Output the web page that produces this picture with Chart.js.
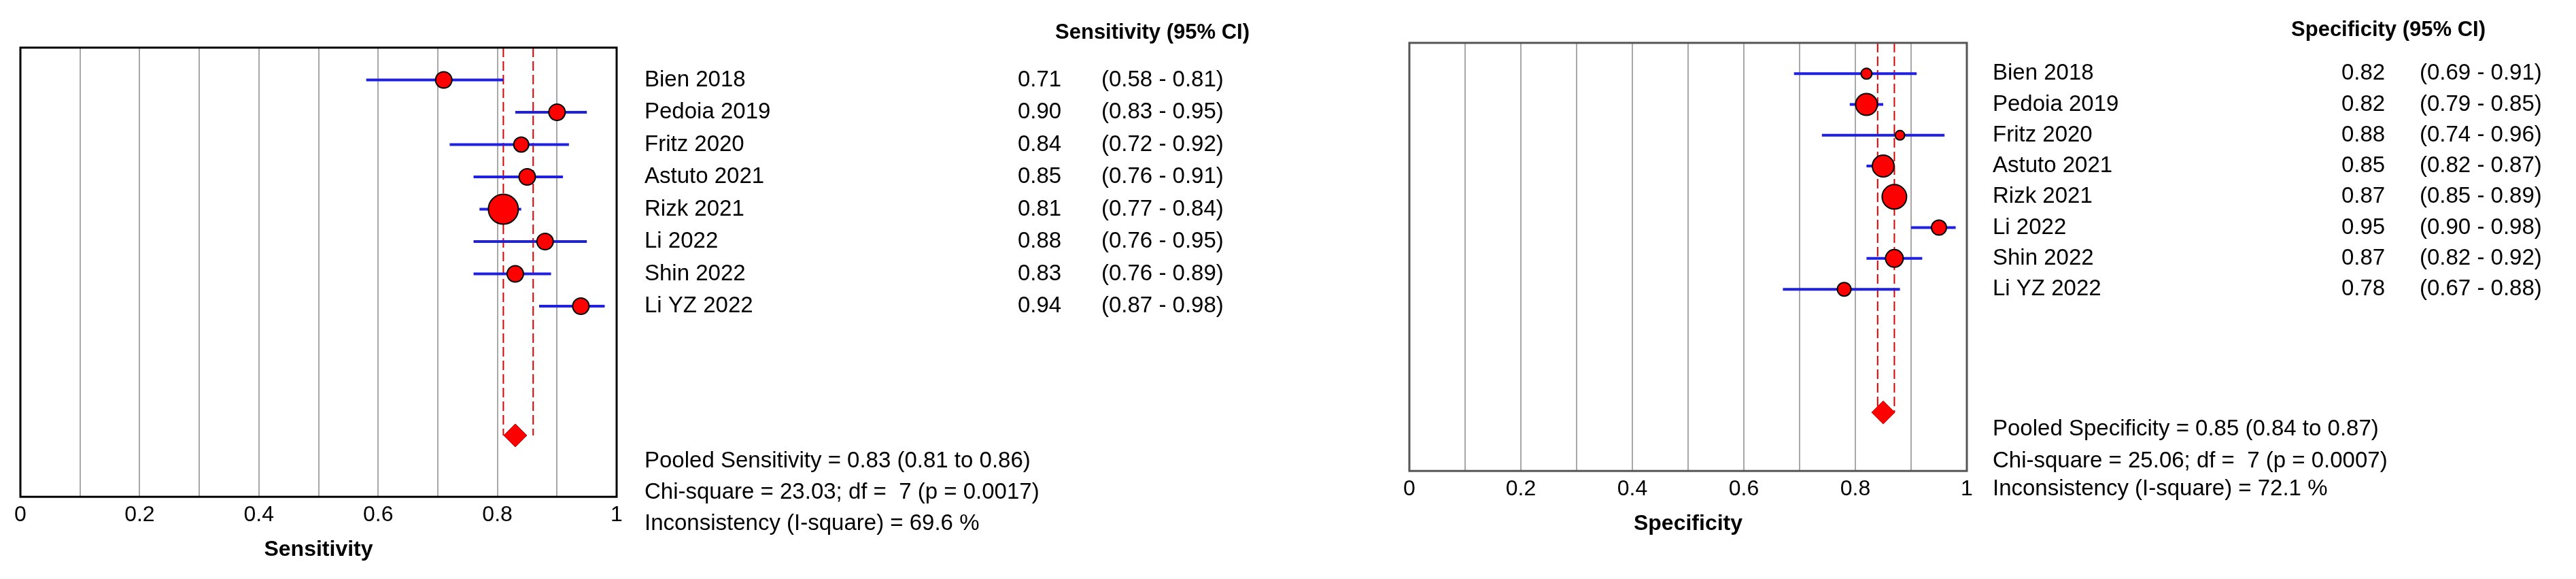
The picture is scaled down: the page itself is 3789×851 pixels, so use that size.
<!DOCTYPE html>
<html><head><meta charset="utf-8">
<script src="https://cdn.jsdelivr.net/npm/chart.js@4"></script>
<style>
body{margin:0;background:#fff;width:3789px;height:851px;overflow:hidden;position:relative}
.box{position:absolute;top:0;height:851px}
</style></head><body>
<div class="box" style="left:0;width:1894px"><canvas id="sens"></canvas></div>
<div class="box" style="left:1894px;width:1895px"><canvas id="spec"></canvas></div>
<script>
// data
const studies = ['Bien 2018','Pedoia 2019','Fritz 2020','Astuto 2021','Rizk 2021','Li 2022','Shin 2022','Li YZ 2022'];
const sensVal = [0.71,0.90,0.84,0.85,0.81,0.88,0.83,0.94];
const sensLo  = [0.58,0.83,0.72,0.76,0.77,0.76,0.76,0.87];
const sensHi  = [0.81,0.95,0.92,0.91,0.84,0.95,0.89,0.98];
const sensW   = [12,12,11,12,22,12,12,12];
const specVal = [0.82,0.82,0.88,0.85,0.87,0.95,0.87,0.78];
const specLo  = [0.69,0.79,0.74,0.82,0.85,0.90,0.82,0.67];
const specHi  = [0.91,0.85,0.96,0.87,0.89,0.98,0.92,0.88];
const specW   = [8,16,7,16,18,11,13,10];
const sensPooled = [0.83,0.81,0.86];
const specPooled = [0.85,0.84,0.87];
const sensStats = ['Pooled Sensitivity = 0.83 (0.81 to 0.86)','Chi-square = 23.03; df =  7 (p = 0.0017)','Inconsistency (I-square) = 69.6 %'];
const specStats = ['Pooled Specificity = 0.85 (0.84 to 0.87)','Chi-square = 25.06; df =  7 (p = 0.0007)','Inconsistency (I-square) = 72.1 %'];

Chart.defaults.font.family = '"Liberation Sans", Arial, sans-serif';
Chart.defaults.color = '#000';

function forest(id, o) {
  const pts = o.val.map((v,i) => ({x:v, y:i+1}));
  const ci = [];
  o.lo.forEach((l,i) => { ci.push({x:l,y:i+1},{x:o.hi[i],y:i+1},{x:NaN,y:NaN}); });
  const PR = 12;
  const textPlugin = {
    id:'txt',
    afterDraw(c) {
      const ctx = c.ctx, ys = c.scales.y, a = c.chartArea;
      ctx.save();
      ctx.strokeStyle = o.boxColor; ctx.lineWidth = 3;
      ctx.strokeRect(a.left, a.top, a.right-a.left, a.bottom-a.top);
      ctx.fillStyle = '#000';
      ctx.textBaseline = 'middle';
      ctx.font = 'bold 31px "Liberation Sans Narrow", "Liberation Sans", Arial';
      ctx.textAlign = 'right';
      ctx.fillText(o.header, o.hx, o.hy);
      ctx.font = '33px "Liberation Sans", Arial';
      studies.forEach((s,i) => {
        const y = ys.getPixelForValue(i+1);
        ctx.textAlign = 'left';
        ctx.fillText(s, o.nx, y);
        ctx.fillText(o.val[i].toFixed(2), o.vx, y);
        ctx.fillText('(' + o.lo[i].toFixed(2) + ' - ' + o.hi[i].toFixed(2) + ')', o.cx, y);
      });
      o.stats.forEach((s,i) => ctx.fillText(s, o.nx, o.sy[i]));
      ctx.restore();
    }
  };
  new Chart(document.getElementById(id), {
    type:'scatter',
    data:{datasets:[
      {data:[{x:o.pooled[0],y:PR}], pointStyle:'rectRot', pointRadius:17, backgroundColor:'#ff0000', borderColor:'#c00000', borderWidth:1},
      {data:pts, pointRadius:o.w, backgroundColor:'#ff0000', borderColor:'#000', borderWidth:2},
      {type:'line', data:ci, borderColor:'#2020e0', borderWidth:4, pointRadius:0, spanGaps:false},
      {type:'line', data:[{x:o.pooled[1],y:0},{x:o.pooled[1],y:PR},{x:NaN,y:NaN},{x:o.pooled[2],y:0},{x:o.pooled[2],y:PR}],
       borderColor:'#e00000', borderWidth:2, borderDash:[14,6], pointRadius:0, spanGaps:false}
    ]},
    options:{
      responsive:false, animation:false, devicePixelRatio:1,
      plugins:{legend:{display:false}, tooltip:{enabled:false}},
      layout:{padding:{left:o.pad[0], right:o.pad[1], top:o.pad[2], bottom:o.pad[3]}},
      scales:{
        x:{type:'linear', min:0, max:1,
           ticks:{stepSize:0.1, font:{size:32}, padding:8, maxRotation:0, autoSkip:false,
             callback:v => { const k = Math.round(v*10); return k%2 ? '' : (k===0 ? '0' : k===10 ? '1' : (k/10).toString()); }},
           grid:{color:c => (c.tick && (c.tick.value<=0.001 || c.tick.value>=0.999)) ? 'rgba(0,0,0,0)' : '#a8a8a8',
                 lineWidth:2, drawTicks:false},
           border:{display:false},
           title:{display:true, text:o.title, font:{size:32, weight:'bold'}, padding:{top:4}}},
        y:{type:'linear', min:0, max:13.9, reverse:true, display:false}
      }
    },
    plugins:[textPlugin]
  });
}

const c1 = document.getElementById('sens'); c1.width = 1894; c1.height = 851;
const c2 = document.getElementById('spec'); c2.width = 1895; c2.height = 851;
forest('sens', {val:sensVal, lo:sensLo, hi:sensHi, w:sensW, pooled:sensPooled, stats:sensStats,
  title:'Sensitivity', header:'Sensitivity (95% CI)', hx:1838, hy:48, nx:948, vx:1497, cx:1620,
  sy:[678,724,770], pad:[30,987,70,20], boxColor:'#000'});
forest('spec', {val:specVal, lo:specLo, hi:specHi, w:specW, pooled:specPooled, stats:specStats,
  title:'Specificity', header:'Specificity (95% CI)', hx:1762, hy:44, nx:1037, vx:1550, cx:1665,
  sy:[631,678,719], pad:[179,896,63,58], boxColor:'#555'});
</script>
</body></html>
